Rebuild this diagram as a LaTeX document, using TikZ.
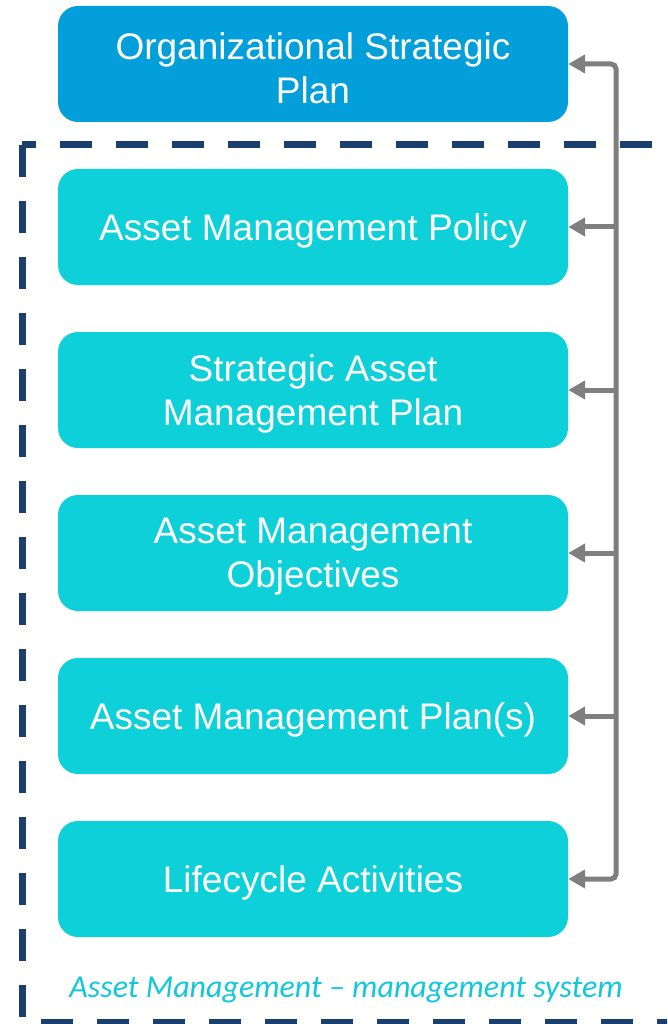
\documentclass[tikz,border=0pt]{standalone}
\usepackage{fontspec}
\setmainfont{Liberation Sans}
\newfontfamily\capfont{Carlito}
\usetikzlibrary{arrows.meta}
\definecolor{topblue}{RGB}{3,159,218}
\definecolor{boxcyan}{RGB}{13,208,216}
\definecolor{navy}{RGB}{26,63,110}
\definecolor{conngray}{RGB}{127,127,127}
\definecolor{captcyan}{RGB}{18,200,216}
\tikzset{
  boxtext/.style={text=white, align=center, inner sep=0pt, font=\fontsize{37}{44}\selectfont, yshift=-4pt},
  planbox/.style={draw=none, fill=boxcyan, rounded corners=20pt, minimum width=510pt, minimum height=116pt, inner sep=0pt},
  topbox/.style={planbox, fill=topblue},
  sysframe/.style={draw=navy, line width=7pt, dash pattern=on 32pt off 24pt},
  conn/.style={draw=conngray, line width=5pt, -{Triangle[length=17pt,width=18pt]}},
  caption/.style={text=captcyan, font=\capfont\itshape\fontsize{32}{36}\selectfont, inner sep=0pt}
}
\begin{document}
\begin{tikzpicture}[x=1pt,y=-1pt]
\useasboundingbox (0,0) rectangle (667,1024);
\clip (0,0) rectangle (667,1024);
\fill[white] (0,0) rectangle (667,1024);
\draw[sysframe] (22,145) rectangle (720,1022);
\node[topbox, label={[boxtext]center:{Organizational Strategic\\Plan}}] (b0) at (313,64) {};
\node[planbox, label={[boxtext]center:{Asset Management Policy}}] (b1) at (313,227) {};
\node[planbox, label={[boxtext]center:{Strategic Asset\\Management Plan}}] (b2) at (313,390) {};
\node[planbox, label={[boxtext]center:{Asset Management\\Objectives}}] (b3) at (313,553) {};
\node[planbox, label={[boxtext]center:{Asset Management Plan(s)}}] (b4) at (313,716) {};
\node[planbox, label={[boxtext]center:{Lifecycle Activities}}] (b5) at (313,879) {};
\node[caption] (cap) at (346,990) {Asset Management – management system};
\coordinate (sT) at (616,64);
\coordinate (sB) at (616,879);
\draw[conn, {Triangle[length=17pt,width=18pt]}-{Triangle[length=17pt,width=18pt]}, rounded corners=5pt] (b0.east) -- (sT) -- (sB) -- (b5.east);
\draw[conn] (b1.east -| sT) -- (b1.east);
\draw[conn] (b2.east -| sT) -- (b2.east);
\draw[conn] (b3.east -| sT) -- (b3.east);
\draw[conn] (b4.east -| sT) -- (b4.east);
\end{tikzpicture}
\end{document}
